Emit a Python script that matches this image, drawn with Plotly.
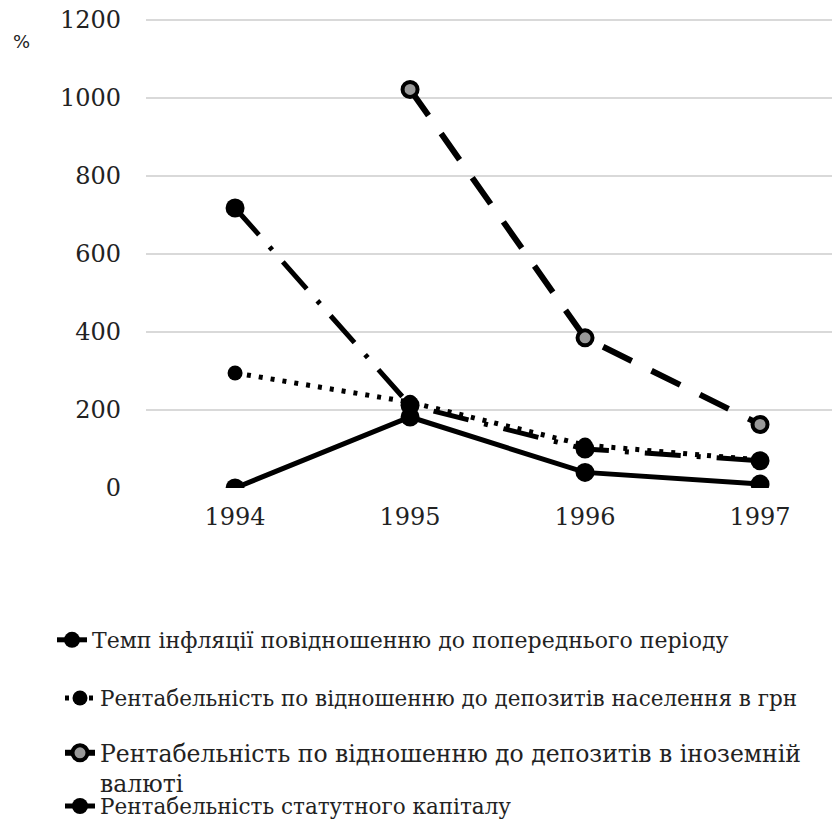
import plotly.graph_objects as go

years = ["1994", "1995", "1996", "1997"]
inflation = [0, 182, 40, 10]
dep_uah = [295, 220, 110, 72]
dep_fx = [None, 1022, 385, 163]
capital = [718, 212, 100, 70]

names = [
    "Темп інфляції повідношенню до попереднього періоду",
    "Рентабельність по відношенню до депозитів населення в грн",
    "Рентабельність по відношенню до депозитів в іноземній<br>валюті",
    "Рентабельність статутного капіталу",
]

y_ticks = [0, 200, 400, 600, 800, 1000, 1200]

SERIF = "DejaVu Serif"

fig = go.Figure()
fig.add_trace(go.Scatter(
    x=years, y=inflation, name=names[0], mode="lines+markers",
    line=dict(color="black", width=5),
    marker=dict(symbol="circle", size=19, color="black"),
    legend="legend"))
fig.add_trace(go.Scatter(
    x=years, y=dep_uah, name=names[1], mode="lines+markers",
    line=dict(color="black", width=5, dash="4px,8px"),
    marker=dict(symbol="circle", size=15, color="black"),
    legend="legend2"))
fig.add_trace(go.Scatter(
    x=years, y=dep_fx, name=names[2], mode="lines+markers",
    line=dict(color="black", width=6, dash="32px,22px"),
    marker=dict(symbol="circle", size=15, color="#999999",
                line=dict(color="black", width=4)),
    legend="legend3"))
fig.add_trace(go.Scatter(
    x=years, y=capital, name=names[3], mode="lines+markers",
    line=dict(color="black", width=5, dash="36px,16px,4px,16px"),
    marker=dict(symbol="circle", size=19, color="black"),
    legend="legend4"))

# plot area: screen y 16 .. 488 (472 px)
def h(ypx):
    return (488 - ypx) / 472.0

def lx(px):
    return (px - 40 - 146) / 694.0

def lf(size):
    return dict(family=SERIF, size=size, color="#222222")

common = dict(xanchor="left", bgcolor="rgba(0,0,0,0)", itemwidth=30, valign="top")

fig.update_layout(
    width=832, height=816,
    showlegend=True,
    margin=dict(l=138, r=0, t=8, b=336, autoexpand=False),
    plot_bgcolor="white", paper_bgcolor="white",
    xaxis=dict(
        type="category", range=[-0.509, 3.457],
        showgrid=False, showline=False, ticks="",
        tickfont=dict(family=SERIF, size=24, color="#222222"),
        ticklabelstandoff=12,
    ),
    yaxis=dict(
        range=[0, 1210.3], tickvals=y_ticks, ticktext=[str(v) for v in y_ticks],
        showgrid=True, gridcolor="#d9d9d9", gridwidth=2,
        zeroline=False, showline=False, ticks="",
        tickfont=dict(family=SERIF, size=24, color="#222222"),
        ticklabelstandoff=24, ticklabeloverflow="allow",
    ),
    legend=dict(x=lx(92), y=h(640), yanchor="middle", font=lf(22), **common),
    legend2=dict(x=lx(100), y=h(698), yanchor="middle", font=lf(21.5), **common),
    legend3=dict(x=lx(100), y=h(731), yanchor="top", font=lf(23.5), **common),
    legend4=dict(x=lx(100), y=h(806), yanchor="middle", font=lf(21.5), **common),
    annotations=[dict(
        text="%", xref="paper", yref="paper", x=-0.195, y=h(42),
        xanchor="left", yanchor="middle", showarrow=False,
        font=dict(family="DejaVu Sans", size=18, color="#222222"))],
)

fig.write_html("out.html")
